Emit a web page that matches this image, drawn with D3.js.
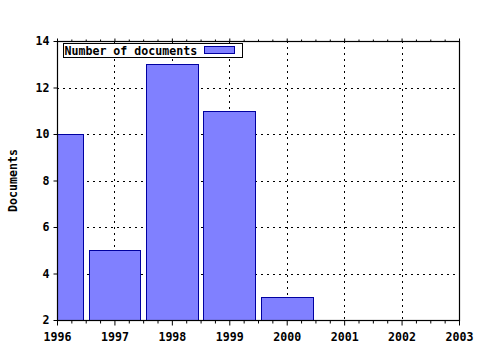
<!DOCTYPE html>
<html>
<head>
<meta charset="utf-8">
<script src="https://cdn.jsdelivr.net/npm/d3@7"></script>
<style>
	body { margin: 0; background: #fff; }
	svg { display: block; }
	text { font-family: 'DejaVu Sans Mono', monospace; font-weight: bold; font-size: 11.6px; fill: #000; }
</style>
</head>
<body>
<script>
// chart data
var years = [1996, 1997, 1998, 1999, 2000];
var documents = [10, 5, 13, 11, 3];
var xTicks = [1996, 1997, 1998, 1999, 2000, 2001, 2002, 2003];
var yTicks = [2, 4, 6, 8, 10, 12, 14];
var seriesName = 'Number of documents';
var yLabel = 'Documents';

var width = 480, height = 350;
var plot = { left: 57, right: 459, top: 41, bottom: 320 };

var svg = d3.select('body').append('svg')
	.attr('width', width)
	.attr('height', height);

var x = d3.scaleLinear().domain([1996, 2003]).range([plot.left, plot.right]);
var y = d3.scaleLinear().domain([2, 14]).range([plot.bottom, plot.top]);

// grid
var grid = svg.append('g').attr('class', 'grid')
	.attr('stroke', '#000')
	.attr('stroke-width', 1)
	.attr('stroke-dasharray', '2,4');
grid.selectAll('.gx')
	.data(xTicks.slice(1, -1))
	.enter().append('line')
		.attr('x1', function(d) { return Math.round(x(d)) + 0.5; })
		.attr('x2', function(d) { return Math.round(x(d)) + 0.5; })
		.attr('y1', plot.top)
		.attr('y2', plot.bottom);
grid.selectAll('.gy')
	.data(yTicks.slice(1, -1))
	.enter().append('line')
		.attr('x1', plot.left)
		.attr('x2', plot.right)
		.attr('y1', function(d) { return Math.round(y(d)) + 0.5; })
		.attr('y2', function(d) { return Math.round(y(d)) + 0.5; });

// bars, clipped to the plot area
svg.append('clipPath').attr('id', 'clip')
	.append('rect')
		.attr('x', plot.left)
		.attr('y', plot.top)
		.attr('width', plot.right - plot.left)
		.attr('height', plot.bottom - plot.top);

var barW = 0.9;
svg.append('g')
	.attr('clip-path', 'url(#clip)')
	.selectAll('rect')
	.data(years)
	.enter().append('rect')
		.attr('x', function(d) { return Math.round(x(d - barW / 2)) + 0.5; })
		.attr('width', function(d) { return Math.round(x(d + barW / 2)) - Math.round(x(d - barW / 2)); })
		.attr('y', function(d, i) { return Math.round(y(documents[i])) + 0.5; })
		.attr('height', function(d, i) { return Math.round(y(2)) - Math.round(y(documents[i])); })
		.attr('fill', '#8080ff')
		.attr('stroke', '#0000a0')
		.attr('stroke-width', 1);

// axes
var xAxis = d3.axisBottom(x)
	.tickValues(xTicks)
	.tickFormat(d3.format('d'))
	.tickSize(5)
	.tickSizeOuter(0);
var gx = svg.append('g')
	.attr('transform', 'translate(0,' + (plot.bottom + 0.5) + ')')
	.call(xAxis);
gx.select('.domain').remove();
gx.selectAll('text').attr('dy', '1.1em').style('font-size', '11.6px');

var minor = d3.range(1996, 2003.001, 0.25).filter(function(d) { return d % 1 !== 0; });
var xMinor = d3.axisBottom(x).tickValues(minor).tickFormat('').tickSize(3).tickSizeOuter(0);
var gxm = svg.append('g')
	.attr('transform', 'translate(0,' + (plot.bottom + 0.5) + ')')
	.call(xMinor);
gxm.select('.domain').remove();

var xTop = d3.axisTop(x).tickValues(xTicks).tickFormat('').tickSize(3).tickSizeOuter(0);
var gxt = svg.append('g')
	.attr('transform', 'translate(0,' + (plot.top + 0.5) + ')')
	.call(xTop);
gxt.select('.domain').remove();
var xTopMinor = d3.axisTop(x).tickValues(minor).tickFormat('').tickSize(2).tickSizeOuter(0);
var gxtm = svg.append('g')
	.attr('transform', 'translate(0,' + (plot.top + 0.5) + ')')
	.call(xTopMinor);
gxtm.select('.domain').remove();

var yAxis = d3.axisLeft(y)
	.tickValues(yTicks)
	.tickSize(4)
	.tickSizeOuter(0)
	.tickPadding(4);
var gy = svg.append('g')
	.attr('transform', 'translate(' + (plot.left + 0.5) + ',0)')
	.call(yAxis);
gy.select('.domain').remove();
gy.selectAll('text').style('font-size', '11.6px');

// frame
svg.append('rect')
	.attr('x', plot.left + 0.5)
	.attr('y', plot.top + 0.5)
	.attr('width', plot.right - plot.left)
	.attr('height', plot.bottom - plot.top)
	.attr('fill', 'none')
	.attr('stroke', '#000')
	.attr('stroke-width', 1.2);

// y label
svg.append('text')
	.attr('transform', 'translate(17,' + ((plot.top + plot.bottom) / 2) + ') rotate(-90)')
	.attr('text-anchor', 'middle')
	.text(yLabel);

// legend
var legend = svg.append('g').attr('transform', 'translate(63.5,43.5)');
legend.append('rect')
	.attr('width', 179)
	.attr('height', 14)
	.attr('fill', '#fff')
	.attr('stroke', '#000');
legend.append('text')
	.attr('x', 1)
	.attr('y', 11)
	.text(seriesName);
legend.append('rect')
	.attr('x', 141)
	.attr('y', 3)
	.attr('width', 30)
	.attr('height', 7)
	.attr('fill', '#8080ff')
	.attr('stroke', '#0000a0');
</script>
</body>
</html>
